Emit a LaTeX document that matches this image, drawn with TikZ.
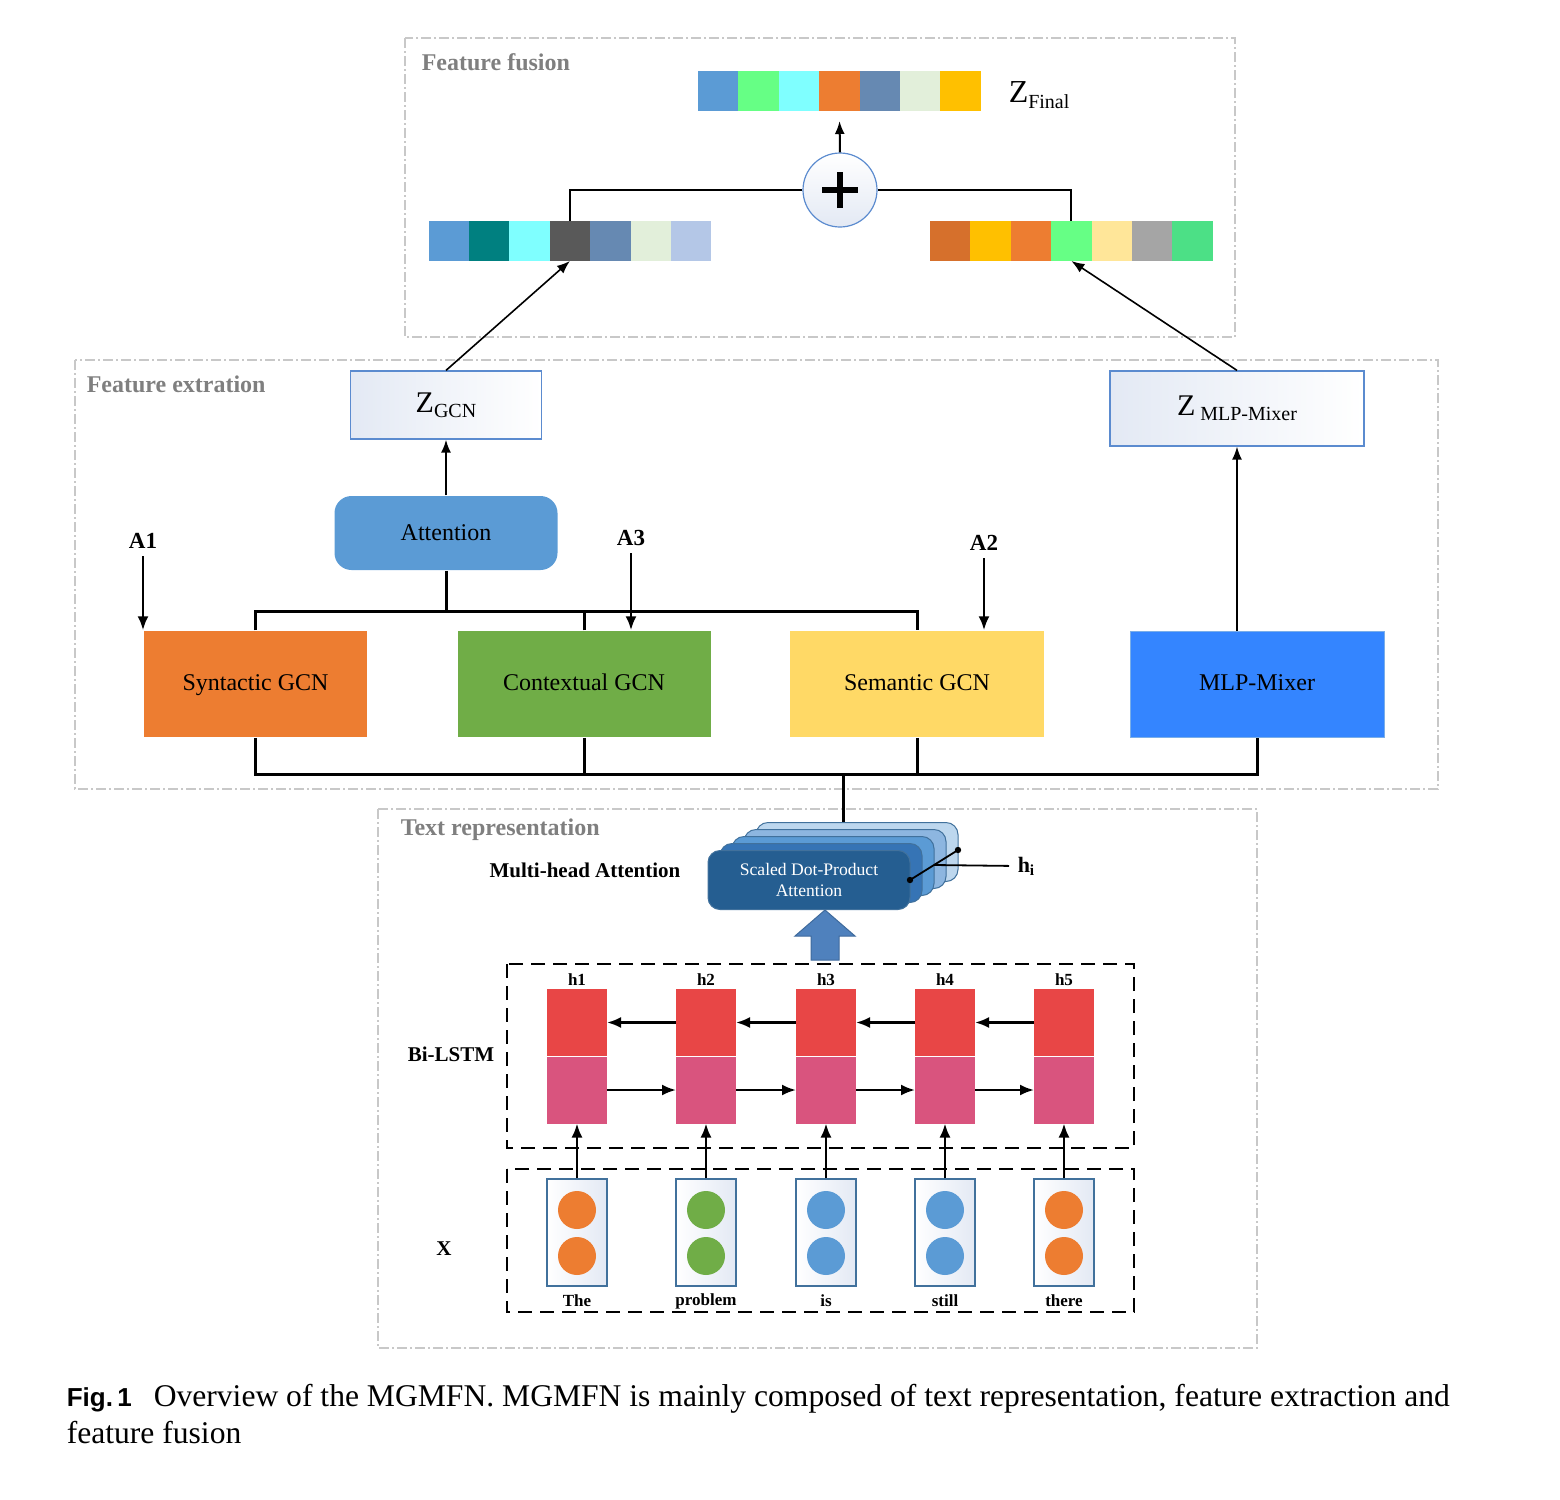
\documentclass[tikz,border=0pt]{standalone}
\usepackage{fontspec}
\setmainfont{Liberation Serif}
\setsansfont{Liberation Sans}
\usetikzlibrary{arrows.meta,positioning,calc}

\definecolor{regiongray}{HTML}{C8C8C8}
\definecolor{labelgray}{HTML}{7F7F7F}
\definecolor{zborder}{HTML}{5B8BCF}
\definecolor{zshade}{HTML}{E3E9F4}
\definecolor{attblue}{HTML}{5B9BD5}
\definecolor{synorange}{HTML}{ED7D31}
\definecolor{ctxgreen}{HTML}{70AD47}
\definecolor{semyellow}{HTML}{FFD966}
\definecolor{mlpblue}{HTML}{3485FF}
\definecolor{mlpedge}{HTML}{7AAEE8}
\definecolor{headedge}{HTML}{41719C}
\definecolor{layerd}{HTML}{BDD7EE}
\definecolor{layerc}{HTML}{8DB6E0}
\definecolor{layerb}{HTML}{5B9BD5}
\definecolor{layera}{HTML}{3674B5}
\definecolor{layerfront}{HTML}{255E91}
\definecolor{fwred}{HTML}{E84646}
\definecolor{bwpink}{HTML}{D9547E}
\definecolor{blockblue}{HTML}{4F81BD}
\definecolor{blockedge}{HTML}{3F6A9C}

\tikzset{every picture/.style={line width=0.75pt}}
\tikzset{
  region/.style={draw=regiongray, line width=0.8pt, dash pattern=on 5pt off 1.5pt on 1pt off 1.5pt},
  regionlabel/.style={anchor=west, inner sep=0pt, text=labelgray, font=\bfseries\fontsize{12}{14}\selectfont},
  cell/.style={minimum width=20.2pt, minimum height=20pt, inner sep=0pt, outer sep=0pt},
  zbox/.style={draw=zborder, line width=0.6pt, left color=zshade, right color=white, inner sep=0pt},
  gcn/.style={minimum height=53pt, inner sep=0pt, text height=8.5pt, text depth=2.5pt, font=\fontsize{12}{14}\selectfont},
  alab/.style={font=\bfseries\fontsize{11.5}{13}\selectfont},
  arr/.style={-{Latex[length=7pt,width=5.5pt]}, line width=1.2pt},
  thinarr/.style={-{Latex[length=6.5pt,width=5pt]}, line width=0.8pt},
  bus/.style={line width=1.5pt},
  headlayer/.style={rounded corners=6pt, draw=headedge, line width=0.5pt, minimum width=101pt, minimum height=29.5pt},
  lstmbox/.style={draw=black, line width=1.2pt, dash pattern=on 7pt off 4pt},
  lstmcell/.style={minimum width=30pt, minimum height=33.5pt, inner sep=0pt, outer sep=0pt},
  tokbox/.style={draw=headedge, line width=0.6pt, left color=white, right color=zshade, minimum width=30pt, minimum height=53.5pt, inner sep=0pt},
  tokdot/.style={circle, minimum size=19pt, inner sep=0pt},
  smallbold/.style={font=\bfseries\fontsize{8.5}{10}\selectfont, inner sep=1.5pt},
  sidelab/.style={font=\bfseries\fontsize{10.5}{12}\selectfont}
}

\begin{document}
\begin{tikzpicture}[x=0.5pt,y=-0.5pt]
\useasboundingbox (0,0) rectangle (1560,1500);

% regions
\draw[region] (405,38) rectangle (1235,337);
\draw[region] (75,360) rectangle (1438,789);
\draw[region] (378,809) rectangle (1257,1348);
\node[regionlabel] (fflab) at (421,62) {Feature fusion};
\node[regionlabel] (felab) at (86,384) {Feature extration};
\node[regionlabel] (trlab) at (400,830) {Text representation};

% feature vectors
\foreach \c [count=\i] in {5B9BD5,66FF85,7FFFFF,ED7D31,6689B2,E2EFDA,FFC000} {
  \definecolor{cc}{HTML}{\c}
  \node[cell, fill=cc] (zf\i) at ({718.2+40.4*(\i-1)},91) {};
}
\foreach \c [count=\i] in {5B9BD5,008080,7FFFFF,595959,6689B2,E2EFDA,B4C7E7} {
  \definecolor{cc}{HTML}{\c}
  \node[cell, fill=cc] (zl\i) at ({448.7+40.4*(\i-1)},241) {};
}
\foreach \c [count=\i] in {D6702C,FFC000,ED7D31,66FF85,FFE699,A5A5A5,4CE086} {
  \definecolor{cc}{HTML}{\c}
  \node[cell, fill=cc] (zr\i) at ({950.2+40.4*(\i-1)},241) {};
}
\node[anchor=west, inner sep=0pt] (zfinal) at (1008,95) {{\fontsize{16}{16}\selectfont Z}\raisebox{-3pt}{\fontsize{10}{12}\selectfont Final}};

% plus
\node[circle, draw=zborder, line width=0.6pt, top color=white, bottom color=zshade, minimum size=37pt] (plus) at (840,190) {};
\draw[line width=2.6pt] ([xshift=-9pt]plus.center) -- ([xshift=9pt]plus.center);
\draw[line width=2.6pt] ([yshift=-9pt]plus.center) -- ([yshift=9pt]plus.center);
\draw[thinarr, line width=1pt, shorten >=5pt] (plus.north) -- (zf4.south);
\draw[line width=1pt] (plus.west) -| (zl4.north);
\draw[line width=1pt] (plus.east) -| (zr4.north);

% feature extraction
\node[zbox, minimum width=95.5pt, minimum height=34pt] (zgcn) at (446,405) {{\fontsize{15}{15}\selectfont Z}\raisebox{-2.5pt}{\fontsize{10}{12}\selectfont GCN}};
\node[zbox, minimum width=127pt, minimum height=37.5pt] (zmlp) at (1237,408.5) {{\fontsize{15}{15}\selectfont Z} \raisebox{-2.5pt}{\fontsize{10}{12}\selectfont MLP-Mixer}};
\node[fill=attblue, rounded corners=8.5pt, minimum width=111.5pt, minimum height=37pt, font=\fontsize{12}{14}\selectfont] (att) at (446,533) {Attention};

\node[gcn, fill=synorange, minimum width=111.5pt] (syn) at (255.5,684) {Syntactic GCN};
\node[gcn, fill=ctxgreen, minimum width=126.5pt] (ctx) at (584,684) {Contextual GCN};
\node[gcn, fill=semyellow, minimum width=127pt] (sem) at (917,684) {Semantic GCN};
\node[gcn, fill=mlpblue, draw=mlpedge, line width=0.5pt, minimum width=127pt] (mlp) at (1257,684) {MLP-Mixer};

\node[alab] (a1) at (143,541) {A1};
\node[alab] (a3) at (631,538) {A3};
\node[alab] (a2) at (984,543) {A2};
\draw[arr] (a1.south) -- (a1.south |- syn.north);
\draw[arr] (a3.south) -- (a3.south |- ctx.north);
\draw[arr] (a2.south) -- (a2.south |- sem.north);

\draw[thinarr, line width=1pt] (att.north) -- (zgcn.south);
\draw[thinarr] (zmlp.south |- mlp.north) -- (zmlp.south);
\draw[thinarr] (zgcn.north) -- (zl4.south);
\draw[thinarr] (zmlp.north) -- (zr4.south);

\coordinate (topbus) at (584,611);
\draw[bus] (syn.north) |- (topbus) -| (sem.north);
\draw[bus] (ctx.north) -- (topbus);
\draw[bus] (att.south) -- (att.south |- topbus);
\coordinate (botbus) at (843,774);
\draw[bus] (syn.south) |- (botbus) -| (mlp.south);
\draw[bus] (ctx.south) -- (ctx.south |- botbus);
\draw[bus] (sem.south) -- (sem.south |- botbus);

% multi-head attention
\node[headlayer, fill=layerd] (mha4) at (857,852) {};
\node[headlayer, fill=layerc] (mha3) at (845,859) {};
\node[headlayer, fill=layerb] (mha2) at (833,866) {};
\node[headlayer, fill=layera] (mha1) at (821,873) {};
\node[headlayer, fill=layerfront, text=white, align=center, font=\fontsize{8.8}{10.5}\selectfont] (mha) at (809,880) {Scaled Dot-Product\\Attention};
\draw[bus] (botbus) -- (botbus |- mha4.north);
\node[sidelab] (mhalab) at (585,870) {Multi-head Attention};

\coordinate (hd1) at (910,880);
\coordinate (hd2) at (958,850);
\draw[line width=0.9pt] (hd1) -- (hd2);
\fill (hd1) circle (1.6pt) (hd2) circle (1.6pt);
\node[font=\bfseries\fontsize{11}{13}\selectfont, anchor=west, inner sep=0pt] (hi) at (1017,866) {h\textsubscript{i}};
\draw[line width=0.9pt, shorten >=4pt] ($(hd1)!0.5!(hd2)$) -- (hi.west);

% block arrow
\draw[draw=blockedge, fill=blockblue, line width=0.5pt] (811,960) -- (811,936) -- (795,936) -- (825,910) -- (855,936) -- (839,936) -- (839,960) -- cycle;

% Bi-LSTM
\draw[lstmbox] (507,964) rectangle (1134,1148);
\draw[lstmbox] (507,1169) rectangle (1134,1312);
\node[sidelab] (bilab) at (451,1054) {Bi-LSTM};
\node[sidelab] (xlab) at (444,1249) {X};

\foreach \x [count=\i] in {577,706,826,945,1064} {
  \node[lstmcell, fill=fwred] (up\i) at (\x,1022.5) {};
  \node[lstmcell, fill=bwpink] (lo\i) at (\x,1090) {};
  \node[smallbold, anchor=south] (h\i) at (up\i.north) {h\i};
}
\foreach \i in {1,...,4} {
  \pgfmathtruncatemacro\j{\i+1}
  \draw[arr] (up\j.west) -- (up\i.east);
  \draw[arr] (lo\i.east) -- (lo\j.west);
}

% input tokens
\foreach \x/\c/\w [count=\i] in {577/ED7D31/The,706/70AD47/problem,826/5B9BD5/is,945/5B9BD5/still,1064/ED7D31/there} {
  \definecolor{dotc}{HTML}{\c}
  \node[tokbox] (tok\i) at (\x,1232.5) {};
  \node[tokdot, fill=dotc] (da\i) at (\x,1210) {};
  \node[tokdot, fill=dotc] (db\i) at (\x,1256) {};
  \node[smallbold] (w\i) at (\x,1301) {\w};
  \draw[arr] (tok\i.north) -- (lo\i.south);
}

% caption
\node[anchor=base west, inner sep=0pt, font=\sffamily\bfseries\fontsize{13}{15}\selectfont] (fig) at (66,1406) {Fig.\,1};
\node[anchor=base west, inner sep=0pt, font=\fontsize{15.8}{18}\selectfont] (cap1) at (153,1406) {Overview of the MGMFN. MGMFN is mainly composed of text representation, feature extraction and};
\node[anchor=base west, inner sep=0pt, font=\fontsize{15.8}{18}\selectfont] (cap2) at (66,1443) {feature fusion};

\end{tikzpicture}
\end{document}
